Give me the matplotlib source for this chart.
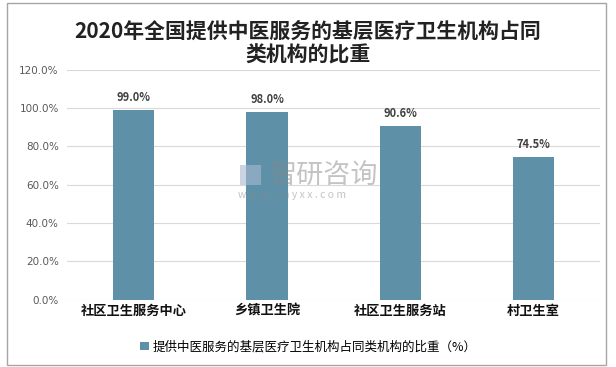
import matplotlib.pyplot as plt
from matplotlib.patches import Rectangle

plt.rcParams['font.family'] = ['Noto Sans CJK SC', 'DejaVu Sans']

# -------------------- datos --------------------
categorias = ["社区卫生服务中心", "乡镇卫生院", "社区卫生服务站", "村卫生室"]
valores = [99.0, 98.0, 90.6, 74.5]
yticks = [0, 20, 40, 60, 80, 100, 120]
titulo = "2020年全国提供中医服务的基层医疗卫生机构占同\n类机构的比重"
leyenda = "提供中医服务的基层医疗卫生机构占同类机构的比重（%）"

color_barra = "#5E90A8"

fig = plt.figure(figsize=(6.16, 3.67), dpi=100)
ax = fig.add_axes([0.109, 0.183, 0.865, 0.627])

x = range(len(categorias))
bars = ax.bar(x, valores, width=0.31, color=color_barra, label=leyenda, zorder=3)

for xi, v in zip(x, valores):
    ax.text(xi, v + 3, f"{v:.1f}%", ha="center", va="bottom",
            fontsize=8, fontweight="bold", color="#404040")

ax.set_xlim(-0.5, len(categorias) - 0.5)
ax.set_ylim(0, 120)
ax.set_yticks(yticks)
ax.set_yticklabels([f"{t:.1f}%" for t in yticks], fontsize=7.5, color="#595959",
                   family="DejaVu Sans")
ax.set_xticks(list(x))
ax.set_xticklabels(categorias, fontsize=9.5, fontweight="bold", color="#111111")
ax.tick_params(axis="both", length=0, pad=6)
ax.tick_params(axis="x", pad=3)
ax.grid(axis="y", color="#D9D9D9", lw=0.8, zorder=0)
for s in ax.spines.values():
    s.set_visible(False)

# título
fig.text(0.5, 0.883, titulo, ha="center", va="center", fontsize=15,
         fontweight="bold", color="#222222", linespacing=1.15)

# leyenda
fig.legend(handles=[bars], labels=[leyenda], loc="center", bbox_to_anchor=(0.5, 0.055),
           frameon=False, fontsize=9, handlelength=0.7, handleheight=0.7,
           handletextpad=0.3, borderaxespad=0)

# marca de agua
fig.text(0.438, 0.523, "智研咨询", ha="left", va="center", fontsize=19.5,
         color="#888888", alpha=0.5, zorder=10)
fig.text(0.386, 0.468, "w w w . c h y x x . c o m", ha="left", va="center",
         fontsize=7.5, color="#888888", alpha=0.5, zorder=10)
fig.patches.append(Rectangle((0.39, 0.495), 0.034, 0.055, transform=fig.transFigure,
                             facecolor="#A9B9D0", alpha=0.6, edgecolor="none", zorder=10))

# borde
fig.patches.append(Rectangle((0.011, 0.006), 0.973, 0.986, transform=fig.transFigure,
                             fill=False, edgecolor="#A6A6A6", lw=1.0))

fig.savefig("out.png", dpi=100)
